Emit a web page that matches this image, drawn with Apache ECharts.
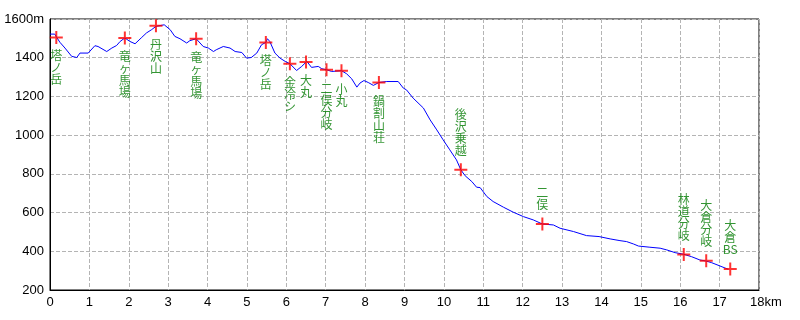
<!DOCTYPE html>
<html>
<head>
<meta charset="utf-8">
<script src="https://cdn.jsdelivr.net/npm/echarts@6/dist/echarts.min.js"></script>
<style>
html,body{margin:0;padding:0;background:#fff;}
#c{width:800px;height:320px;}
</style>
</head>
<body>
<div id="c"></div>
<script>
// Profile (distance km, elevation m)
const profileKm = [0.00,0.12,0.17,0.25,0.38,0.55,0.68,0.76,0.97,1.14,1.22,1.44,1.57,1.69,1.78,1.90,2.03,2.16,2.33,2.45,2.58,2.69,2.74,2.90,3.05,3.17,3.30,3.47,3.55,3.71,3.89,4.02,4.15,4.22,4.40,4.57,4.70,4.87,4.99,5.11,5.25,5.37,5.48,5.52,5.58,5.71,5.84,5.97,6.09,6.26,6.39,6.52,6.64,6.81,6.90,7.02,7.15,7.40,7.53,7.66,7.79,7.87,7.97,8.08,8.21,8.35,8.55,8.84,8.97,9.05,9.22,9.48,9.65,9.82,9.98,10.15,10.32,10.43,10.54,10.71,10.83,10.92,11.09,11.25,11.51,11.76,12.02,12.27,12.50,12.78,12.95,13.29,13.62,13.94,14.22,14.47,14.64,14.81,14.94,15.23,15.49,15.66,15.87,16.08,16.29,16.50,16.65,16.80,17.01,17.22];
const profileElev = [1522,1522,1505,1480,1450,1407,1401,1424,1424,1462,1458,1432,1450,1463,1484,1502,1484,1472,1505,1528,1545,1562,1570,1570,1545,1510,1498,1476,1488,1498,1458,1450,1432,1441,1458,1450,1432,1427,1398,1401,1424,1467,1479,1498,1484,1424,1398,1381,1369,1334,1355,1381,1350,1355,1343,1338,1329,1333,1317,1291,1248,1269,1282,1272,1257,1272,1277,1277,1243,1234,1191,1140,1079,1027,976,924,872,821,790,760,731,729,683,657,628,602,579,562,541,536,519,502,481,476,464,455,450,438,427,421,416,407,393,385,372,355,350,341,324,307];

// Waypoints
const wpNames = ['塔ノ岳','竜ヶ馬場','丹沢山','竜ヶ馬場','塔ノ岳','金冷シ','大丸','二俣分岐','小丸','鍋割山荘','後沢乗越','二俣','林道分岐','大倉分岐','大倉BS'];
const wpKm   = [0.16,1.90,2.69,3.71,5.48,6.09,6.50,7.02,7.40,8.35,10.43,12.50,16.09,16.66,17.27];
const wpElev = [1505,1502,1565,1498,1479,1369,1378,1338,1333,1272,821,541,383,351,308];

// Axes
const xMin = 0, xMax = 18, xStep = 1, xUnit = 'km';
const yMin = 200, yMax = 1600, yStep = 200, yUnit = 'm';

const lineData = profileKm.map((k, i) => [k, profileElev[i]]);

function verticalText(name) {
  const parts = name.match(/[A-Za-z0-9]+|./g);
  return parts.join('\n');
}

const wpData = wpNames.map((n, i) => {
  const above = wpElev[i] < 900;
  return {
    value: [wpKm[i], wpElev[i]],
    name: n,
    label: {
      position: above ? 'top' : 'bottom',
      distance: above ? 7 : 6
    }
  };
});

const crossPath = 'path://M5.5,0h2v13h-2zM0,5.5h13v2h-13z';
const axisFont = "'Liberation Sans Narrow','Arial Narrow',sans-serif";
const gridLine = {show: true, lineStyle: {color: '#b4b4b4', type: 'dashed', width: 1, dashOffset: 0}};

const chart = echarts.init(document.getElementById('c'), null, {renderer: 'canvas'});
chart.setOption({
  animation: false,
  backgroundColor: '#ffffff',
  grid: {left: 50, right: 41, top: 19, bottom: 30, show: true, borderColor: '#000', borderWidth: 1},
  xAxis: {
    type: 'value', min: xMin, max: xMax, interval: xStep,
    axisLine: {show: true, lineStyle: {color: '#000', width: 1}},
    axisTick: {show: false},
    splitLine: gridLine,
    axisLabel: {
      margin: 6, color: '#000', fontFamily: axisFont, fontSize: 13,
      formatter: v => v === xMax ? '{u|' + v + xUnit + '}' : String(v),
      rich: {u: {fontFamily: axisFont, fontSize: 13, color: '#000', padding: [0, 0, 0, 14]}}
    }
  },
  yAxis: {
    type: 'value', min: yMin, max: yMax, interval: yStep,
    axisLine: {show: true, lineStyle: {color: '#000', width: 1}},
    axisTick: {show: false},
    splitLine: gridLine,
    axisLabel: {
      margin: 6, color: '#000', fontFamily: axisFont, fontSize: 13,
      formatter: v => v === yMax ? v + yUnit : String(v)
    }
  },
  series: [
    {
      type: 'line', data: lineData, showSymbol: false, symbol: 'none',
      lineStyle: {color: '#0000ff', width: 1}, z: 2, silent: true
    },
    {
      type: 'scatter', data: wpData, symbol: crossPath, symbolSize: 13,
      itemStyle: {color: '#ff0000'}, z: 3, silent: true,
      label: {
        show: true, color: '#007a00',
        fontFamily: "'Noto Sans CJK JP', sans-serif", fontSize: 12, lineHeight: 12,
        formatter: p => verticalText(p.name)
      }
    }
  ]
});
</script>
</body>
</html>
